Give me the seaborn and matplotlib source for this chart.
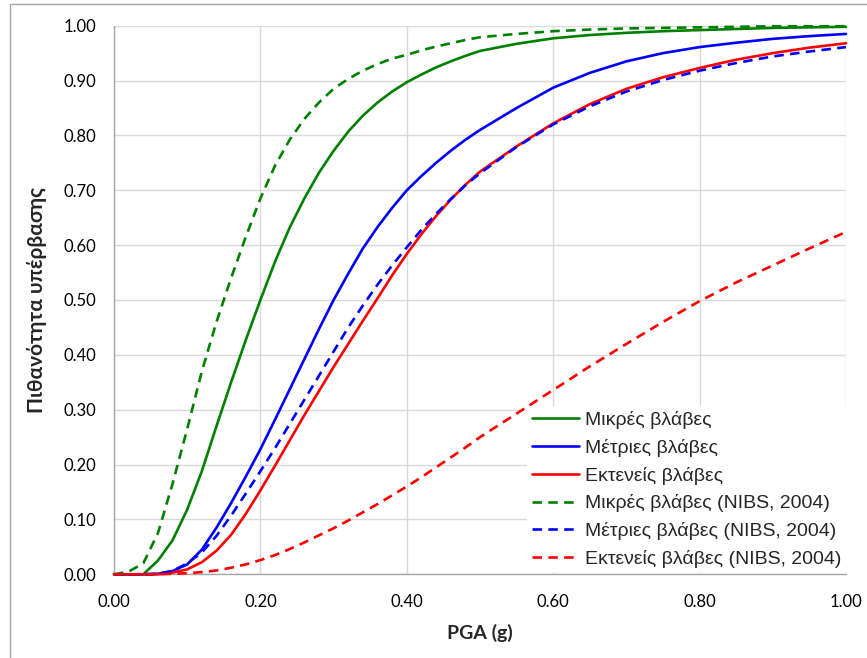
import numpy as np
import pandas as pd
import matplotlib
matplotlib.use("Agg")
import matplotlib.pyplot as plt
from matplotlib.patches import Rectangle
import seaborn as sns

# ---- data ----
pga = [0.00, 0.02, 0.04, 0.06, 0.08, 0.10, 0.12, 0.14, 0.16, 0.18, 0.20,
       0.22, 0.24, 0.26, 0.28, 0.30, 0.32, 0.34, 0.36, 0.38, 0.40,
       0.42, 0.44, 0.46, 0.48, 0.50, 0.55, 0.60, 0.65, 0.70, 0.75,
       0.80, 0.85, 0.90, 0.95, 1.00]

minor = [0.000, 0.000, 0.000, 0.025, 0.062, 0.118, 0.188, 0.270, 0.350, 0.427, 0.500,
         0.570, 0.632, 0.685, 0.732, 0.772, 0.807, 0.836, 0.860, 0.880, 0.897,
         0.911, 0.924, 0.935, 0.945, 0.954, 0.967, 0.977, 0.983, 0.987, 0.990,
         0.992, 0.994, 0.996, 0.997, 0.998]
moderate = [0.000, 0.000, 0.000, 0.001, 0.006, 0.018, 0.045, 0.085, 0.130, 0.178, 0.228,
            0.282, 0.337, 0.392, 0.447, 0.500, 0.548, 0.594, 0.633, 0.668, 0.700,
            0.726, 0.750, 0.772, 0.792, 0.810, 0.850, 0.887, 0.914, 0.935, 0.950,
            0.961, 0.969, 0.976, 0.981, 0.985]
extensive = [0.000, 0.000, 0.000, 0.000, 0.003, 0.009, 0.022, 0.043, 0.072, 0.110, 0.153,
             0.198, 0.244, 0.290, 0.334, 0.378, 0.420, 0.462, 0.503, 0.545, 0.584,
             0.620, 0.653, 0.683, 0.710, 0.734, 0.780, 0.822, 0.857, 0.885, 0.906,
             0.923, 0.938, 0.950, 0.960, 0.968]
minor_nibs = [0.000, 0.005, 0.020, 0.075, 0.165, 0.265, 0.370, 0.460, 0.540, 0.615, 0.685,
              0.745, 0.792, 0.830, 0.860, 0.885, 0.903, 0.918, 0.930, 0.940, 0.947,
              0.955, 0.962, 0.968, 0.974, 0.979, 0.985, 0.990, 0.993, 0.995, 0.996,
              0.997, 0.998, 0.999, 0.999, 0.999]
moderate_nibs = [0.000, 0.000, 0.000, 0.001, 0.006, 0.020, 0.040, 0.070, 0.107, 0.147, 0.188,
                 0.230, 0.274, 0.318, 0.362, 0.406, 0.450, 0.490, 0.528, 0.563, 0.596,
                 0.628, 0.657, 0.684, 0.709, 0.731, 0.779, 0.820, 0.853, 0.880, 0.901,
                 0.918, 0.932, 0.944, 0.953, 0.961]
extensive_nibs = [0.000, 0.000, 0.000, 0.000, 0.001, 0.002, 0.004, 0.007, 0.012, 0.018, 0.026,
                  0.035, 0.046, 0.058, 0.071, 0.084, 0.098, 0.113, 0.128, 0.144, 0.160,
                  0.177, 0.195, 0.213, 0.231, 0.250, 0.293, 0.336, 0.379, 0.420, 0.460,
                  0.498, 0.532, 0.563, 0.594, 0.624]

labels = ["Μικρές βλάβες", "Μέτριες βλάβες", "Εκτενείς βλάβες",
          "Μικρές βλάβες (NIBS, 2004)", "Μέτριες βλάβες (NIBS, 2004)",
          "Εκτενείς βλάβες (NIBS, 2004)"]
series = [minor, moderate, extensive, minor_nibs, moderate_nibs, extensive_nibs]
colors = ["#008000", "#0000FF", "#FF0000", "#008000", "#0000FF", "#FF0000"]
dashed = [False, False, False, True, True, True]

xticks = [0.0, 0.2, 0.4, 0.6, 0.8, 1.0]
yticks = [0.0, 0.1, 0.2, 0.3, 0.4, 0.5, 0.6, 0.7, 0.8, 0.9, 1.0]

# ---- figure ----
sns.set_style("white")
plt.rcParams['font.family'] = ['Lato', 'Open Sans', 'DejaVu Sans']

W, H = 867, 658
fig = plt.figure(figsize=(W / 100, H / 100), dpi=100)
ax = fig.add_axes([114 / W, 1 - 574.3 / H, (846 - 114) / W, (574.3 - 25.7) / H])

# outer chart-area border (Excel style)
fig.patches.append(Rectangle((9.5 / W, -0.05), 1.2, 1 - 4.5 / H + 0.05,
                             transform=fig.transFigure, fill=False,
                             edgecolor="#A6A6A6", linewidth=1.0))

for lab, vals, col, dsh in zip(labels, series, colors, dashed):
    df = pd.DataFrame({"PGA": pga, "P": vals})
    sns.lineplot(data=df, x="PGA", y="P", ax=ax, color=col, linewidth=1.9,
                 label=lab, clip_on=False, zorder=5)
    ln = ax.lines[-1]
    ln.set_solid_joinstyle("round")
    if dsh:
        ln.set_dashes((3.6, 2.4))
        ln.set_dash_capstyle("butt")

ax.set_xlim(0, 1)
ax.set_ylim(0, 1)
ax.set_xticks(xticks)
ax.set_yticks(yticks)
ax.set_xticklabels([f"{t:.2f}" for t in xticks])
ax.set_yticklabels([f"{t:.2f}" for t in yticks])
ax.grid(True, color="#D9D9D9", linewidth=1.0)
ax.set_axisbelow(True)
for s in ["top", "right"]:
    ax.spines[s].set_visible(False)
for s in ["left", "bottom"]:
    ax.spines[s].set_color("#A6A6A6")
    ax.spines[s].set_linewidth(1.0)
ax.tick_params(axis="both", which="major", direction="out", length=5,
               width=1.0, color="#A6A6A6", labelsize=12, labelcolor="#000000")
ax.tick_params(axis="x", pad=9)
ax.tick_params(axis="y", pad=8)

ax.set_xlabel("PGA (g)", fontsize=14, fontweight="bold", labelpad=10)
ax.set_ylabel("Πιθανότητα υπέρβασης", fontsize=15, fontweight="bold", labelpad=12)

leg = ax.legend(loc="lower right", bbox_to_anchor=(1.0, 0.003), frameon=True,
                framealpha=1.0, facecolor="white", edgecolor="none", fancybox=False,
                prop={"family": ["Liberation Sans", "DejaVu Sans"], "size": 14},
                handlelength=2.45, handletextpad=0.28, labelspacing=0.5,
                borderpad=0.25, borderaxespad=0.0)
leg.set_zorder(6)

fig.savefig("out.png", dpi=100, facecolor="white")
